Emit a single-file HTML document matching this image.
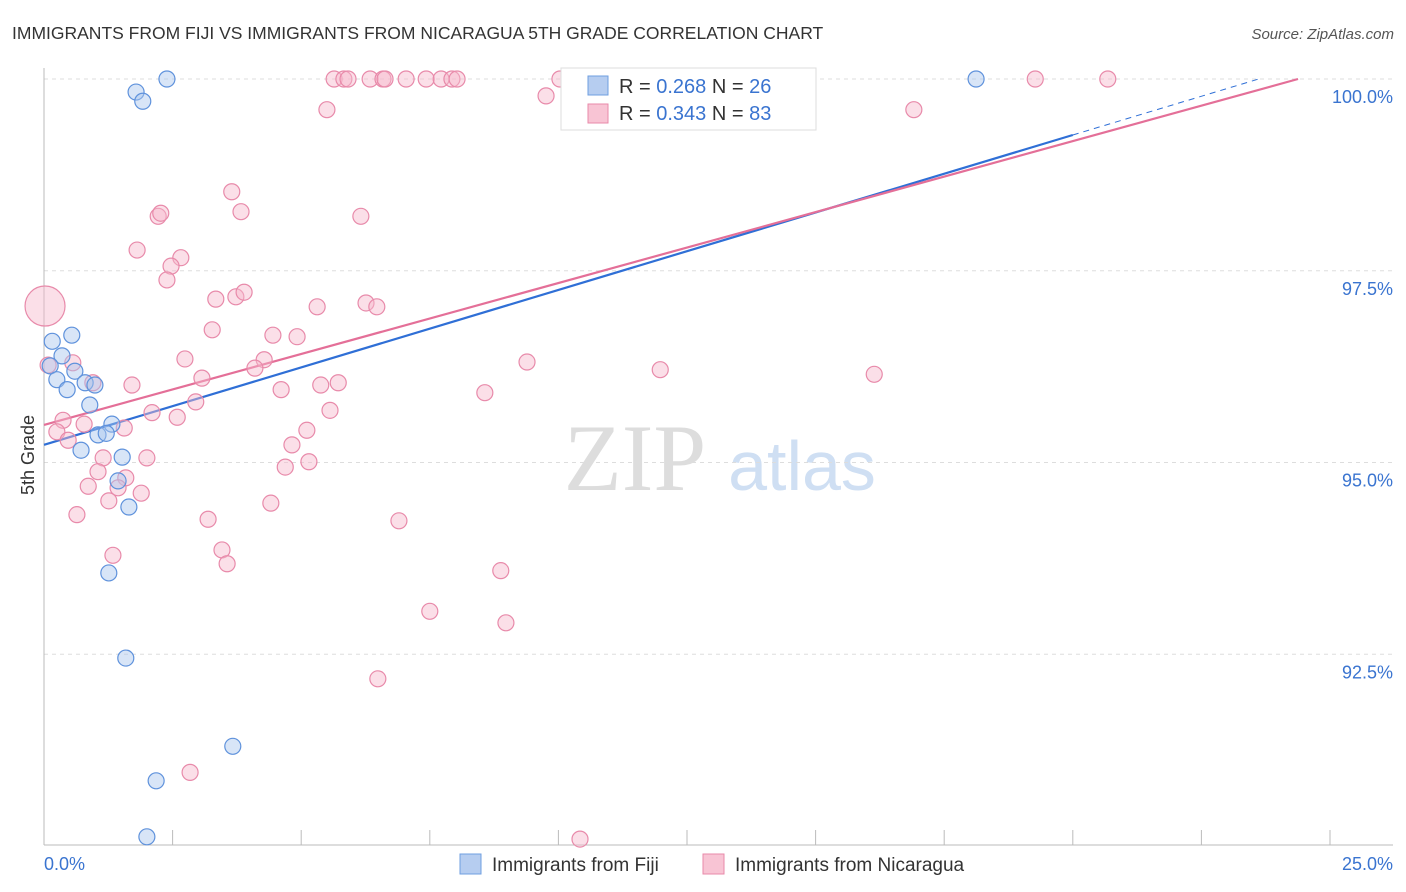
<!DOCTYPE html>
<html><head><meta charset="utf-8">
<style>
body{margin:0;background:#fff;font-family:"Liberation Sans",sans-serif;}
svg{display:block}
</style></head>
<body>
<svg id="chart" width="1406" height="892" xmlns="http://www.w3.org/2000/svg">
<text x="12" y="39" font-size="17.5" fill="#333">IMMIGRANTS FROM FIJI VS IMMIGRANTS FROM NICARAGUA 5TH GRADE CORRELATION CHART</text>
<text x="1394" y="39" font-size="15" fill="#555" font-style="italic" text-anchor="end">Source: ZipAtlas.com</text>
<text x="34" y="455" font-size="18" fill="#333" text-anchor="middle" transform="rotate(-90 34 455)">5th Grade</text>
<g>
<text x="635" y="490" font-size="95" fill="#ddd" text-anchor="middle" font-family="Liberation Serif,serif">ZIP</text>
<text x="802" y="490" font-size="70" fill="#cfdff3" text-anchor="middle">atlas</text>
</g>
<g id="grid"></g><g id="ticks"></g><g id="lines"></g><g id="pts"></g>
<g>
<rect x="561" y="68" width="255" height="62" fill="#fff" stroke="#ddd"/>
<rect x="588" y="76" width="20" height="19" fill="#b6cdf0" stroke="#6f9fe0"/>
<rect x="588" y="104" width="20" height="19" fill="#f8c4d4" stroke="#e88aaa"/>
<text x="619" y="93" font-size="20" fill="#333">R = <tspan fill="#3a74d0">0.268</tspan>   N = <tspan fill="#3a74d0">26</tspan></text>
<text x="619" y="120" font-size="20" fill="#333">R = <tspan fill="#3a74d0">0.343</tspan>   N = <tspan fill="#3a74d0">83</tspan></text>
</g>
<g>
<rect x="460" y="854" width="21" height="20" fill="#b6cdf0" stroke="#6f9fe0"/>
<text x="492" y="871" font-size="19" fill="#333">Immigrants from Fiji</text>
<rect x="703" y="854" width="21" height="20" fill="#f8c4d4" stroke="#e88aaa"/>
<text x="735" y="871" font-size="19" fill="#333">Immigrants from Nicaragua</text>
</g>
</svg>
<script>
const fijiX=[2.39,1.79,1.92,18.12,0.16,0.54,0.35,0.12,0.60,0.25,0.45,0.80,0.99,0.89,1.32,1.05,1.21,0.72,1.52,1.44,1.65,1.26,1.59,3.67,2.18,2.00];
const fijiY=[100,99.83,99.71,100,96.58,96.66,96.39,96.26,96.19,96.08,95.95,96.04,96.01,95.75,95.50,95.36,95.38,95.16,95.07,94.76,94.42,93.56,92.45,91.30,90.85,90.12];
const nicPx=[[334,79],[344,79],[348,79],[370,79],[383,79],[385,79],[406,79],[426,79],[441,79],[452,79],[457,79],[560,79],[1035,79],[1108,79],[327,110],[546,96],[914,110],[232,192],[158,216],[161,213],[241,212],[361,216],[137,250],[181,258],[171,266],[167,280],[216,299],[236,297],[244,292],[317,307],[366,303],[377,307],[212,330],[273,335],[297,337],[185,359],[264,360],[255,368],[527,362],[660,370],[874,374],[202,378],[132,385],[93,383],[281,390],[321,385],[338,383],[485,393],[196,402],[330,410],[152,413],[177,417],[73,363],[63,420],[84,424],[57,432],[68,440],[124,428],[307,430],[292,445],[147,458],[103,458],[309,462],[285,467],[98,472],[126,478],[88,486],[118,488],[141,493],[109,501],[271,503],[77,515],[208,519],[399,521],[113,555],[222,550],[227,564],[501,571],[430,611],[506,623],[378,679],[190,772],[580,839],[48,365],[45,306]];
const nicX=nicPx.map(p=>+((p[0]-44)/51.44).toFixed(2));
const nicY=nicPx.map(p=>+(100-(p[1]-79)/76.7).toFixed(2));
const nicR=nicPx.map((p,i)=>i===nicPx.length-1?20:8);
const yTicks=[100,97.5,95,92.5];
const yTickLabels=["100.0%","97.5%","95.0%","92.5%"];
const xTicks=[0,2.5,5,7.5,10,12.5,15,17.5,20,22.5,25];
const fijiTrend=[95.23,0.202];
const nicTrend=[95.49,0.185];
const sx=v=>44+v*51.44, sy=v=>79+(100-v)*76.7;
const NS="http://www.w3.org/2000/svg";
function mk(parent,tag,attrs){const e=document.createElementNS(NS,tag);for(const k in attrs)e.setAttribute(k,attrs[k]);document.getElementById(parent).appendChild(e);return e;}
yTicks.forEach((t,i)=>{
 const l=mk('grid','line',{x1:44,x2:1393,y1:sy(t),y2:sy(t),stroke:'#ddd','stroke-dasharray':'4,4'});
 
 
 const tx=mk('grid','text',{x:1393,y:sy(t)+24,'font-size':18,fill:'#3a74d0','text-anchor':'end'});
 tx.textContent=yTickLabels[i];
 
 
});
let a=mk('ticks','line',{x1:44,x2:44,y1:68,y2:845,stroke:'#bbb'});


a=mk('ticks','line',{x1:44,x2:1393,y1:845,y2:845,stroke:'#bbb'});


xTicks.forEach(t=>{const l=mk('ticks','line',{x1:sx(t),x2:sx(t),y1:830,y2:845,stroke:'#bbb'});
 
 });
let t0=mk('ticks','text',{x:44,y:870,'font-size':18,fill:'#3a74d0'});t0.textContent='0.0%';


let t1=mk('ticks','text',{x:1393,y:870,'font-size':18,fill:'#3a74d0','text-anchor':'end'});t1.textContent='25.0%';


function drawPts(X,Y,R,fill,stroke,name){X.forEach((x,i)=>{const c=mk('pts','circle',{cx:sx(x),cy:sy(Y[i]),r:R?R[i]:8,fill:fill,'fill-opacity':0.45,stroke:stroke,'stroke-width':1.2});
 
 });}
drawPts(nicX,nicY,nicR,'#f6b9cd','#e88aaa','nicaragua-point');
drawPts(fijiX,fijiY,null,'#a9c6ee','#5f92dc','fiji-point');
const xEndF=20, xEndN=(100-nicTrend[0])/nicTrend[1];
let b=mk('lines','line',{x1:sx(0),y1:sy(fijiTrend[0]),x2:sx(xEndF),y2:sy(fijiTrend[0]+fijiTrend[1]*xEndF),stroke:'#2f6fd6','stroke-width':2.2});


const xEndFd=(100-fijiTrend[0])/fijiTrend[1];
b=mk('lines','line',{x1:sx(xEndF),y1:sy(fijiTrend[0]+fijiTrend[1]*xEndF),x2:sx(xEndFd),y2:sy(100),stroke:'#2f6fd6','stroke-width':1,'stroke-dasharray':'6,5'});


b=mk('lines','line',{x1:sx(0),y1:sy(nicTrend[0]),x2:sx(xEndN),y2:sy(100),stroke:'#e46f98','stroke-width':2.2});


</script>
</body></html>
